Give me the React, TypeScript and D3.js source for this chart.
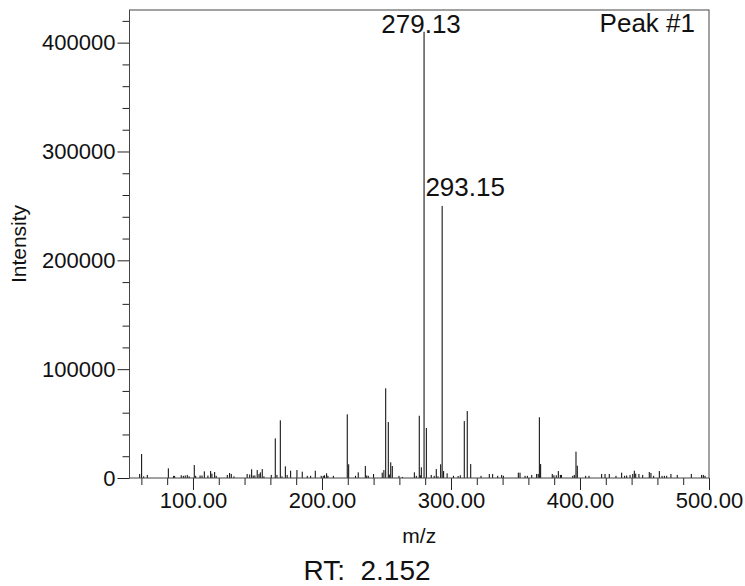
import * as d3 from "d3";
import { useEffect, useRef } from "react";

// m/z of every centroid and its intensity
const mzValues = [
  58.7, 60.2, 61.8, 64.6, 80.9, 85.0, 85.8, 90.9, 92.5, 94.0, 95.6, 97.0,
  101.0, 102.1, 105.5, 107.0, 108.8, 111.6, 113.7, 114.7, 116.8, 118.0,
  126.6, 128.4, 129.7, 131.8, 142.0, 144.0, 145.5, 146.7, 148.0, 149.8,
  151.2, 152.2, 153.7, 155.0, 160.7, 163.8, 165.1, 167.7, 169.0, 171.6,
  173.0, 175.7, 180.6, 184.7, 188.6, 191.2, 194.8, 199.4, 201.0, 202.0,
  203.6, 204.6, 208.8, 219.6, 220.7, 226.0, 228.1, 233.6, 234.7, 235.9,
  240.0, 246.7, 248.0, 249.4, 251.4, 252.2, 253.3, 254.5, 259.7, 262.3,
  271.6, 273.1, 275.4, 276.2, 277.0, 279.13, 280.9, 284.7, 287.0, 288.6,
  289.9, 292.0, 293.15, 294.3, 297.0, 301.9, 305.5, 307.2, 310.3, 312.6,
  315.3, 323.3, 329.7, 332.3, 336.2, 339.3, 340.6, 352.2, 353.5, 357.4,
  359.2, 362.6, 366.4, 367.6, 368.5, 369.5, 378.5, 379.8, 381.6, 383.2,
  384.8, 385.6, 394.4, 395.6, 396.9, 397.9, 404.4, 407.0, 416.8, 419.4,
  422.7, 427.9, 432.3, 434.6, 436.2, 438.8, 440.9, 442.1, 443.2, 445.7,
  448.6, 453.7, 455.0, 457.1, 461.5, 463.6, 465.4, 467.2, 470.5, 475.4,
  486.3, 494.3, 495.6, 496.9,
];
const intensities = [
  3700, 22000, 1500, 2800, 8900, 2000, 1800, 2500, 2000, 2300, 2800, 1500,
  11900, 2000, 2300, 2300, 6100, 2300, 6400, 4000, 5500, 2000,
  2800, 4600, 3700, 1500, 3700, 3200, 8000, 2300, 2300, 7300,
  3700, 5200, 8200, 1500, 2800, 36400, 2800, 53000, 1500, 10700,
  2800, 6700, 7300, 5800, 2000, 2000, 6700, 2000, 2000, 2500,
  4300, 2000, 2000, 58500, 12600, 2000, 5200, 11000, 2300, 2000,
  3700, 4900, 7300, 82400, 51400, 3200, 14400, 11000, 2000, 1000,
  5200, 2000, 57200, 2500, 9800, 410000, 45900, 2800, 2000, 8200,
  1500, 12600, 250000, 6400, 4300, 2000, 1800, 2500, 52300, 61500,
  12800, 2000, 3700, 3700, 2000, 2800, 2000, 4900, 4900, 2000,
  2000, 2800, 3700, 3700, 55800, 12800, 3700, 2500, 2500, 6400,
  2800, 2800, 2000, 2800, 24200, 11300, 2000, 2000, 3700, 3700,
  3700, 2000, 4900, 2000, 2300, 2800, 3700, 6700, 4000, 3700,
  2800, 5500, 4600, 2000, 6400, 2000, 2000, 2000, 3700, 2800,
  3700, 2800, 2800, 2000,
];

// annotated peaks and where their labels sit relative to the peak top
const labelMz = [279.13, 293.15];
const labelDx = [-3, 23];
const labelDy = [1, -10];

const xMajorTicks = [100, 200, 300, 400, 500];
const yMajorTicks = [0, 100000, 200000, 300000, 400000];

const width = 745;
const height = 586;
const margin = { left: 129.5, top: 10, right: 36, bottom: 108 };
const font = "'Liberation Sans', Arial, Helvetica, sans-serif";

export default function App() {
  const ref = useRef<SVGSVGElement>(null);

  useEffect(() => {
    if (!ref.current) return;
    const svg = d3.select(ref.current);
    svg.selectAll("*").remove();

    const x = d3.scaleLinear()
      .domain([50.8, 500])
      .range([margin.left, width - margin.right]);
    const y = d3.scaleLinear()
      .domain([0, 430000])
      .range([height - margin.bottom, margin.top]);

    const peaks = mzValues.map((mz, i) => ({ mz, v: intensities[i] }));

    // sticks
    svg.append("g")
      .selectAll("line")
      .data(peaks)
      .join("line")
      .attr("x1", (d) => x(d.mz))
      .attr("x2", (d) => x(d.mz))
      .attr("y1", y(0))
      .attr("y2", (d) => y(d.v))
      .attr("stroke", "#000")
      .attr("stroke-width", 1);

    // minor ticks first, then major ones with labels
    const xMinor = d3.range(60, 500, 20).filter((v) => v % 100 !== 0);
    svg.append("g")
      .attr("transform", `translate(0,${y(0)})`)
      .call(d3.axisBottom(x).tickValues(xMinor).tickSize(7).tickFormat(() => ""))
      .call((g) => g.select(".domain").remove());
    const xAxis = svg.append("g")
      .attr("transform", `translate(0,${y(0)})`)
      .call(d3.axisBottom(x).tickValues(xMajorTicks).tickSize(12).tickPadding(2)
        .tickFormat(d3.format(".2f")));
    xAxis.select(".domain").remove();

    const yMinor = d3.range(20000, 430000, 20000).filter((v) => v % 100000 !== 0);
    svg.append("g")
      .attr("transform", `translate(${margin.left},0)`)
      .call(d3.axisLeft(y).tickValues(yMinor).tickSize(7).tickFormat(() => ""))
      .call((g) => g.select(".domain").remove());
    const yAxis = svg.append("g")
      .attr("transform", `translate(${margin.left},0)`)
      .call(d3.axisLeft(y).tickValues(yMajorTicks).tickSize(12).tickPadding(2)
        .tickFormat(d3.format("d")));
    yAxis.select(".domain").remove();

    svg.selectAll(".tick line").attr("stroke", "#222");
    svg.selectAll(".tick text")
      .attr("font-family", font)
      .attr("font-size", 22)
      .attr("fill", "#111");
    svg.selectAll("g").attr("font-family", null).attr("font-size", null);

    // frame
    svg.append("rect")
      .attr("x", margin.left)
      .attr("y", margin.top)
      .attr("width", width - margin.right - margin.left)
      .attr("height", y(0) - margin.top)
      .attr("fill", "none")
      .attr("stroke", "#444")
      .attr("stroke-width", 1);

    // peak labels
    svg.append("g")
      .selectAll("text")
      .data(labelMz)
      .join("text")
      .attr("x", (d, i) => x(d) + labelDx[i])
      .attr("y", (d, i) => y(intensities[mzValues.indexOf(d)]) + labelDy[i])
      .attr("text-anchor", "middle")
      .attr("font-family", font)
      .attr("font-size", 26)
      .attr("fill", "#111")
      .text((d) => d.toFixed(2));

    svg.append("text")
      .attr("x", width - margin.right - 14)
      .attr("y", 32)
      .attr("text-anchor", "end")
      .attr("font-family", font)
      .attr("font-size", 26)
      .attr("fill", "#111")
      .text("Peak #1");

    svg.append("text")
      .attr("x", (margin.left + width - margin.right) / 2)
      .attr("y", 543)
      .attr("text-anchor", "middle")
      .attr("font-family", font)
      .attr("font-size", 21)
      .attr("fill", "#111")
      .text("m/z");

    svg.append("text")
      .attr("transform", `translate(26,244) rotate(-90)`)
      .attr("text-anchor", "middle")
      .attr("font-family", font)
      .attr("font-size", 21)
      .attr("fill", "#111")
      .text("Intensity");

    svg.append("text")
      .attr("x", 367)
      .attr("y", 580)
      .attr("text-anchor", "middle")
      .attr("font-family", font)
      .attr("font-size", 28)
      .attr("fill", "#111")
      .attr("xml:space", "preserve")
      .style("white-space", "pre")
      .text("RT:  2.152");
  }, []);

  return (
    <svg
      ref={ref}
      width={width}
      height={height}
      viewBox={`0 0 ${width} ${height}`}
      style={{ position: "absolute", left: 0, top: 0, background: "#fff" }}
    />
  );
}
